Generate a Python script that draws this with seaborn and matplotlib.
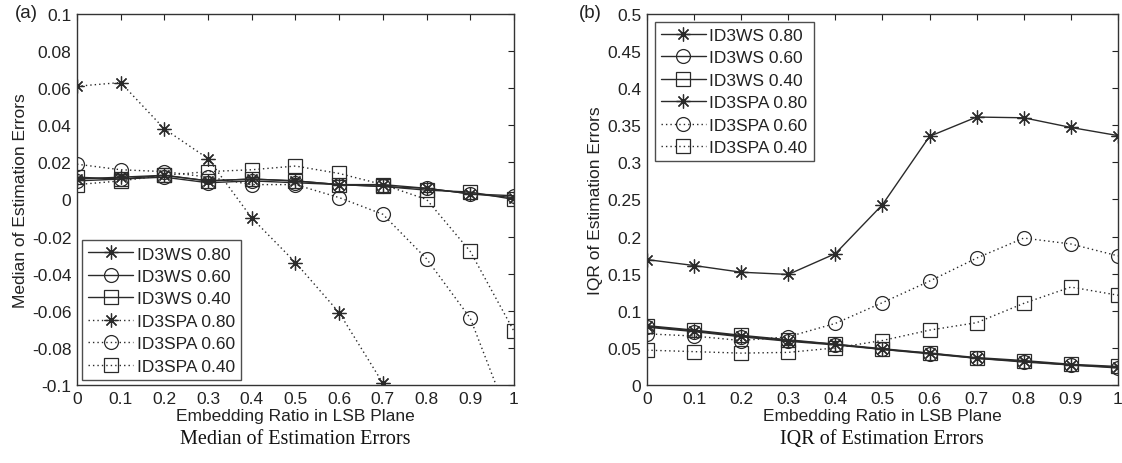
import matplotlib
matplotlib.use("Agg")
import matplotlib.pyplot as plt
import seaborn as sns
import numpy as np

# Embedding ratios on the x axis
ratio = [0.0, 0.1, 0.2, 0.3, 0.4, 0.5, 0.6, 0.7, 0.8, 0.9, 1.0]

# (a) Median of estimation errors
med_ws_80 = [0.011, 0.012, 0.013, 0.010, 0.011, 0.010, 0.008, 0.008, 0.006, 0.003, 0.001]
med_ws_60 = [0.010, 0.011, 0.012, 0.009, 0.010, 0.009, 0.008, 0.007, 0.006, 0.003, 0.002]
med_ws_40 = [0.012, 0.011, 0.013, 0.010, 0.011, 0.010, 0.008, 0.007, 0.005, 0.004, 0.000]
med_spa_80 = [0.061, 0.063, 0.038, 0.022, -0.010, -0.034, -0.061, -0.099, -0.140, -0.185, -0.230]
med_spa_60 = [0.019, 0.016, 0.015, 0.012, 0.008, 0.008, 0.001, -0.008, -0.032, -0.064, -0.125]
med_spa_40 = [0.008, 0.010, 0.013, 0.015, 0.016, 0.018, 0.014, 0.008, 0.000, -0.028, -0.071]

# (b) IQR of estimation errors
iqr_ws_80 = [0.079, 0.073, 0.066, 0.060, 0.055, 0.048, 0.043, 0.036, 0.032, 0.027, 0.024]
iqr_ws_60 = [0.078, 0.072, 0.065, 0.059, 0.054, 0.048, 0.042, 0.036, 0.031, 0.027, 0.023]
iqr_ws_40 = [0.080, 0.074, 0.067, 0.061, 0.055, 0.049, 0.043, 0.037, 0.033, 0.028, 0.025]
iqr_spa_80 = [0.169, 0.161, 0.152, 0.149, 0.177, 0.243, 0.335, 0.361, 0.360, 0.347, 0.336]
iqr_spa_60 = [0.069, 0.066, 0.060, 0.065, 0.083, 0.111, 0.140, 0.171, 0.198, 0.190, 0.174]
iqr_spa_40 = [0.047, 0.045, 0.043, 0.044, 0.050, 0.060, 0.074, 0.084, 0.110, 0.132, 0.121]

labels = ["ID3WS 0.80", "ID3WS 0.60", "ID3WS 0.40",
          "ID3SPA 0.80", "ID3SPA 0.60", "ID3SPA 0.40"]
xticks = [0, 0.1, 0.2, 0.3, 0.4, 0.5, 0.6, 0.7, 0.8, 0.9, 1]
xticklabels = ["0", "0.1", "0.2", "0.3", "0.4", "0.5", "0.6", "0.7", "0.8", "0.9", "1"]
med_yticks = [-0.1, -0.08, -0.06, -0.04, -0.02, 0, 0.02, 0.04, 0.06, 0.08, 0.1]
med_yticklabels = ["-0.1", "-0.08", "-0.06", "-0.04", "-0.02", "0", "0.02", "0.04", "0.06", "0.08", "0.1"]
iqr_yticks = [0, 0.05, 0.1, 0.15, 0.2, 0.25, 0.3, 0.35, 0.4, 0.45, 0.5]
iqr_yticklabels = ["0", "0.05", "0.1", "0.15", "0.2", "0.25", "0.3", "0.35", "0.4", "0.45", "0.5"]

sns.set_style("white")
plt.rcParams["font.family"] = ["Liberation Sans", "DejaVu Sans"]

fig = plt.figure(figsize=(11.22, 4.64), dpi=100)
ax_a = fig.add_axes([0.0686, 0.168, 0.3895, 0.800])
ax_b = fig.add_axes([0.5766, 0.168, 0.4198, 0.800])

LINE = "#2a2a2a"
STAR = (8, 2, 0)
SOLID = "-"
DOT = (0, (1, 2.2))
FS = 12.5


def draw(ax, series, styles):
    for ys, lab, (mk, ls) in zip(series, labels, styles):
        sns.lineplot(x=ratio, y=ys, ax=ax, color=LINE, linewidth=1.0,
                     linestyle=ls, marker=mk, markersize=10,
                     markerfacecolor="none", markeredgecolor=LINE,
                     markeredgewidth=0.9, label=lab, legend=False)


styles_a = [(STAR, SOLID), ("o", SOLID), ("s", SOLID),
            (STAR, DOT), ("o", DOT), ("s", DOT)]
styles_b = [(STAR, SOLID), ("o", SOLID), ("s", SOLID),
            (STAR, SOLID), ("o", DOT), ("s", DOT)]

draw(ax_a, [med_ws_80, med_ws_60, med_ws_40, med_spa_80, med_spa_60, med_spa_40], styles_a)
draw(ax_b, [iqr_ws_80, iqr_ws_60, iqr_ws_40, iqr_spa_80, iqr_spa_60, iqr_spa_40], styles_b)


def style_axes(ax, yticks, yticklabels, ylim, ylabel):
    ax.set_xlim(0, 1)
    ax.set_ylim(*ylim)
    ax.set_xticks(xticks)
    ax.set_xticklabels(xticklabels)
    ax.set_yticks(yticks)
    ax.set_yticklabels(yticklabels)
    ax.tick_params(direction="in", top=True, right=True, length=4,
                   width=0.8, labelsize=FS, colors="#222222", pad=4)
    for sp in ax.spines.values():
        sp.set_color("#333333")
        sp.set_linewidth(1.0)
    ax.set_xlabel("Embedding Ratio in LSB Plane", fontsize=FS, color="#222222", labelpad=2)
    ax.set_ylabel(ylabel, fontsize=FS, color="#222222", labelpad=3)


style_axes(ax_a, med_yticks, med_yticklabels, (-0.1, 0.1), "Median of Estimation Errors")
style_axes(ax_b, iqr_yticks, iqr_yticklabels, (0, 0.5), "IQR of Estimation Errors")

for ax, loc, pad in ((ax_a, "lower left", 0.3), (ax_b, "upper left", 0.45)):
    leg = ax.legend(loc=loc, fontsize=FS, frameon=True, fancybox=False,
                    handlelength=2.6, handletextpad=0.2, labelspacing=0.42,
                    borderpad=0.35, borderaxespad=pad)
    leg.get_frame().set_edgecolor("#222222")
    leg.get_frame().set_linewidth(1.0)
    for t in leg.get_texts():
        t.set_color("#222222")

fig.text(0.013, 0.970, "(a)", fontsize=13.5, color="#222222", va="center")
fig.text(0.516, 0.970, "(b)", fontsize=13.5, color="#222222", va="center")

fig.text(0.263, 0.052, "Median of Estimation Errors", ha="center", va="center",
         fontsize=14.5, family=["Liberation Serif", "DejaVu Serif"], color="#111111")
fig.text(0.786, 0.052, "IQR of Estimation Errors", ha="center", va="center",
         fontsize=14.5, family=["Liberation Serif", "DejaVu Serif"], color="#111111")

fig.savefig("out.png", dpi=100)
